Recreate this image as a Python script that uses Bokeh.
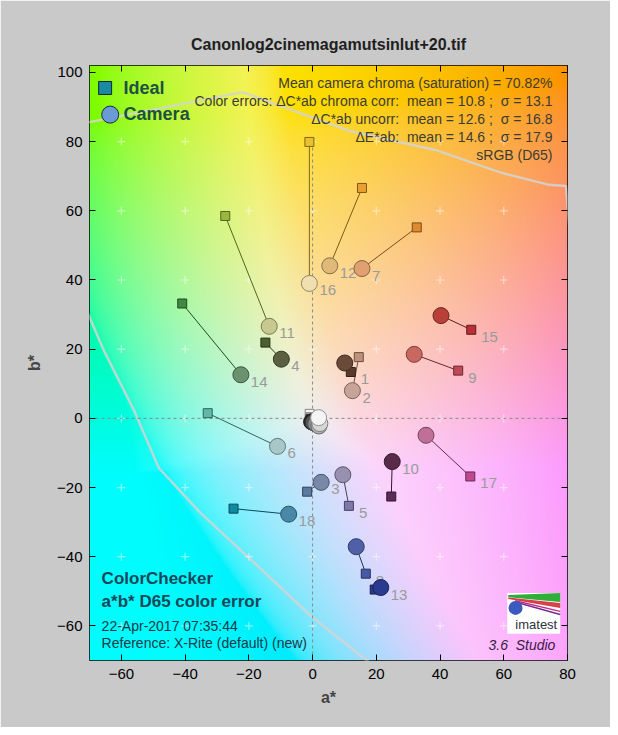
import numpy as np
from bokeh.plotting import figure
from bokeh.models import ColumnDataSource, Label, LinearAxis, FixedTicker, Range1d
from bokeh.core.properties import value
from bokeh.embed import file_html
from bokeh.resources import INLINE

# ---------------- data ----------------
X_MIN, X_MAX = -70, 80
Y_MIN, Y_MAX = -70, 102
x_ticks = [-60, -40, -20, 0, 20, 40, 60, 80]
y_ticks = [-60, -40, -20, 0, 20, 40, 60, 80, 100]
grid_a = [-60, -40, -20, 0, 20, 40, 60]
grid_b = [-60, -40, -20, 0, 20, 40, 60, 80]

patch_ids = [str(i) for i in range(1, 25)]
ideal_a = [12.0, 14.5, -1.7, -14.8, 11.4, -32.9, 32.7, 16.7, 45.7, 24.7, -27.4, 15.5,
           19.5, -40.9, 49.8, -1.0, 49.5, -24.8, -0.9, -0.6, -0.7, -0.6, -0.2, 0.3]
ideal_b = [13.4, 17.7, -21.2, 21.9, -25.3, 1.5, 55.2, -44.9, 13.8, -22.6, 58.5, 66.6,
           -49.5, 33.2, 25.6, 79.9, -16.8, -26.1, 1.3, 0.3, -0.2, -0.4, -0.8, -1.1]
cam_a = [10.1, 12.5, 2.7, -9.8, 9.5, -11.0, 15.5, 13.7, 31.9, 25.0, -13.6, 5.4,
         21.4, -22.5, 40.3, -1.0, 35.6, -7.5, 1.9, 2.3, 2.0, 1.0, 0.2, -0.3]
cam_b = [16.0, 8.0, -18.5, 17.1, -16.3, -8.1, 43.3, -37.1, 18.5, -12.5, 26.6, 44.1,
         -48.9, 12.6, 29.7, 39.0, -4.9, -27.7, 0.2, -1.5, -2.2, -1.6, -1.2, -1.0]
ideal_color = ["#5c3a2a", "#c0907a", "#5a7aa0", "#4a6030", "#8078a8", "#60b8a8",
               "#e08a30", "#4858a8", "#c04858", "#5a2a58", "#98b840", "#e8a030",
               "#2a3a90", "#408a40", "#b83038", "#e8c030", "#c04890", "#108aa0",
               "#f4f4f4", "#c8c8c8", "#a0a0a0", "#7a7a7a", "#505050", "#282828"]
cam_color = ["#6a4a38", "#c8a498", "#7888a8", "#5a6040", "#9890b0", "#a8c8c8",
             "#e0a070", "#5060a8", "#c86860", "#5a2a4a", "#c8c890", "#e0b878",
             "#2a3a90", "#6a926e", "#b84038", "#f0e0b0", "#c07098", "#4a88a8",
             "#f4f4f4", "#d6d6d6", "#b0b0b0", "#8a8a8a", "#555555", "#252525"]
# which marker each patch number is written beside (patches 1-18)
label_at = ["ideal", "camera", "camera", "camera", "ideal", "camera", "camera", "ideal",
            "ideal", "camera", "camera", "camera", "camera", "camera", "ideal", "camera",
            "ideal", "camera"]
n_labeled = 18

gamut_upper_a = [-90, -71.9, -22.0, 12.2, 38.5, 59.5, 74.2, 79.5, 80.6]
gamut_upper_b = [83, 85.3, 94.3, 82.9, 77.6, 70.9, 67.5, 67.2, 55]
gamut_lower_a = [-76, -70.3, -65.6, -56.1, -48.2, -35.1, -19.3, -0.4, 17.4, 22]
gamut_lower_b = [45, 29.9, 19.8, 2.5, -14.4, -27.4, -40.9, -57.2, -70.3, -74]

NB = "\u00a0"
title_text = "Canonlog2cinemagamutsinlut+20.tif"
stats_lines = ["Mean camera chroma (saturation) = 70.82%",
               "Color errors: \u0394C*ab chroma corr:" + NB + " mean = 10.8 ;" + NB + " \u03c3 = 13.1",
               "\u0394C*ab uncorr:" + NB + " mean = 12.6 ;" + NB + " \u03c3 = 16.8",
               "\u0394E*ab:" + NB + " mean = 14.6 ;" + NB + " \u03c3 = 17.9",
               "sRGB (D65)"]
info_bold = ["ColorChecker", "a*b* D65 color error"]
info_plain = ["22-Apr-2017 07:35:44", "Reference: X-Rite (default) (new)"]
version_text = "3.6" + NB + " Studio"

FONT = "Liberation Sans"


def darken(h, f):
    r, g, b = int(h[1:3], 16), int(h[3:5], 16), int(h[5:7], 16)
    return "#%02x%02x%02x" % (int(r * f), int(g * f), int(b * f))


# ---------------- background: a*b* plane colours ----------------
nx, ny = 300, 344
A, B = np.meshgrid(np.linspace(X_MIN, X_MAX, nx), np.linspace(Y_MIN, Y_MAX, ny))
Lc = 90.0
fy = (Lc + 16) / 116
fx = fy + A / 500
fz = fy - B / 200


def finv(t):
    return np.where(t > 6 / 29, t ** 3, 3 * (6 / 29) ** 2 * (t - 4 / 29))


X = 0.95047 * finv(fx)
Y = finv(fy) * np.ones_like(A)
Z = 1.08883 * finv(fz)
R = 3.2406 * X - 1.5372 * Y - 0.4986 * Z
G = -0.9689 * X + 1.8758 * Y + 0.0415 * Z
Bl = 0.0557 * X - 0.2040 * Y + 1.0570 * Z
rgb = np.clip(np.stack([R, G, Bl], -1), 0, 1)
rgb = rgb + 0.5 * (1 - rgb.max(axis=-1, keepdims=True))
rgb = np.clip(rgb, 0, 1)
rgb = np.where(rgb <= 0.0031308, 12.92 * rgb, 1.055 * rgb ** (1 / 2.4) - 0.055)
img = np.zeros((ny, nx), dtype=np.uint32)
view = img.view(dtype=np.uint8).reshape((ny, nx, 4))
view[:, :, :3] = np.clip(rgb * 253, 0, 255).astype(np.uint8)
view[:, :, 3] = 255

# ---------------- figure ----------------
p = figure(width=610, height=727, x_range=Range1d(X_MIN, X_MAX), y_range=Range1d(Y_MIN, Y_MAX),
           output_backend="svg", toolbar_location=None,
           border_fill_color="#c9c9c9", background_fill_color="#ffffff",
           min_border_left=89, min_border_right=43, min_border_top=65, min_border_bottom=67,
           outline_line_color="#000000", outline_line_width=1)
p.grid.visible = False

p.title.text = title_text
p.title.align = "center"
p.title.text_font = FONT
p.title.text_font_size = "16px"
p.title.text_font_style = "bold"
p.title.text_color = "#202020"
p.title.standoff = 26

for ax in (p.xaxis[0], p.yaxis[0]):
    ax.major_label_text_font = FONT
    ax.major_label_text_font_size = "15px"
    ax.major_label_text_color = "#000000"
    ax.axis_label_text_font = FONT
    ax.axis_label_text_font_size = "16px"
    ax.axis_label_text_font_style = "bold"
    ax.major_tick_in = 6
    ax.major_tick_out = 0
    ax.minor_tick_line_color = None
    ax.axis_line_color = None
p.xaxis[0].ticker = FixedTicker(ticks=x_ticks)
p.yaxis[0].ticker = FixedTicker(ticks=y_ticks)
p.xaxis[0].axis_label = "a*"
p.yaxis[0].axis_label = "b*"
p.xaxis[0].major_label_standoff = 8
p.xaxis[0].axis_label_standoff = 7
p.yaxis[0].major_label_standoff = 7
p.yaxis[0].axis_label_standoff = 11

top_ax = LinearAxis(ticker=FixedTicker(ticks=x_ticks),
                    major_label_overrides={t: "" for t in x_ticks},
                    major_tick_in=6, major_tick_out=0, minor_tick_line_color=None,
                    axis_line_color=None)
right_ax = LinearAxis(ticker=FixedTicker(ticks=y_ticks),
                      major_label_overrides={t: "" for t in y_ticks},
                      major_tick_in=6, major_tick_out=0, minor_tick_line_color=None,
                      axis_line_color=None)
p.add_layout(top_ax, "above")
p.add_layout(right_ax, "right")

p.image_rgba(image=[img], x=X_MIN, y=Y_MIN, dw=X_MAX - X_MIN, dh=Y_MAX - Y_MIN)

# gamut outline
p.line(gamut_upper_a, gamut_upper_b, line_color="#d4d4d4", line_width=2.5, line_alpha=0.85)
p.line(gamut_lower_a, gamut_lower_b, line_color="#d4d4d4", line_width=2.5, line_alpha=0.85)

# grid crosses
ga, gb = np.meshgrid(grid_a, grid_b)
p.scatter(ga.ravel(), gb.ravel(), marker="cross", size=8, line_color="#ffffff",
          line_alpha=0.5, line_width=1.2)

# dashed axes through zero
p.line([X_MIN, X_MAX], [0, 0], line_color="#8a8a8a", line_dash="3 3", line_width=1)
p.line([0, 0], [Y_MIN, grid_b[-1]], line_color="#8a8a8a", line_dash="3 3", line_width=1)

# connecting lines and ideal squares
src = ColumnDataSource(dict(
    ia=ideal_a, ib=ideal_b, ca=cam_a, cb=cam_b,
    icol=ideal_color,
    iline=[darken(c, 0.55) for c in ideal_color],
    seg=[darken(c, 0.55) for c in ideal_color]))
p.segment(x0="ia", y0="ib", x1="ca", y1="cb", line_color="seg", line_width=1, source=src)
p.scatter(x="ia", y="ib", marker="square", size=9, fill_color="icol", line_color="iline",
          line_width=1, source=src)

# patch numbers (drawn beneath the camera circles)
lx = [ideal_a[i] if label_at[i] == "ideal" else cam_a[i] for i in range(n_labeled)]
ly = [ideal_b[i] if label_at[i] == "ideal" else cam_b[i] for i in range(n_labeled)]
lsrc = ColumnDataSource(dict(x=lx, y=ly, t=patch_ids[:n_labeled]))
p.text(x="x", y="y", text="t", source=lsrc, x_offset=10, y_offset=7,
       text_font=value(FONT), text_font_size="15px", text_color="#9a9a9a",
       text_baseline="middle", text_align="left")

# camera circles: colour patches then neutrals (white on top)
order = list(range(n_labeled)) + list(range(len(patch_ids) - 1, n_labeled - 1, -1))
csrc = ColumnDataSource(dict(
    ca=[cam_a[i] for i in order], cb=[cam_b[i] for i in order],
    ccol=[cam_color[i] for i in order],
    cline=[darken(cam_color[i], 0.6) for i in order]))
p.scatter(x="ca", y="cb", marker="circle", size=16, fill_color="ccol", line_color="cline",
          line_width=1, source=csrc)

# legend
p.scatter([-65.1], [95.5], marker="square", size=13, fill_color="#1a8aa0", line_color="#102830")
p.scatter([-63.5], [87.8], marker="circle", size=17, fill_color="#6b9bd6", line_color="#1a2a40")
for txt, yy in (("Ideal", 95.6), ("Camera", 87.9)):
    p.add_layout(Label(x=-59.3, y=yy, text=txt, text_font=FONT, text_font_size="18px",
                       text_font_style="bold", text_color="#1e5044", text_baseline="middle",
                       text_align="left"))

# stats block
for i, t in enumerate(stats_lines):
    p.add_layout(Label(x=75.3, y=96.9 - 5.2 * i, text=t, text_font=FONT, text_font_size="14px",
                       text_color="#3c3c30", text_baseline="middle", text_align="right"))

# info block
for i, t in enumerate(info_bold):
    p.add_layout(Label(x=-66.2, y=-46.2 - 6.7 * i, text=t, text_font=FONT, text_font_size="17px",
                       text_font_style="bold", text_color="#17465a", text_baseline="middle",
                       text_align="left"))
for i, t in enumerate(info_plain):
    p.add_layout(Label(x=-66.2, y=-59.9 - 5.0 * i, text=t, text_font=FONT, text_font_size="14px",
                       text_color="#17384a", text_baseline="middle", text_align="left"))
p.add_layout(Label(x=76.2, y=-65.4, text=version_text, text_font=FONT, text_font_size="14px",
                   text_font_style="italic", text_color="#3a1848", text_baseline="middle",
                   text_align="right"))

# imatest logo
LX0, LX1, LY0, LY1 = 61.1, 77.7, -62.3, -50.5
p.quad(left=[LX0], right=[LX1], bottom=[LY0], top=[LY1], fill_color="#ffffff", line_color=None)
p.patch([LX0 + 0.3, LX1, LX1, LX0 + 0.3], [LY1 - 0.6, LY1, LY1 - 2.6, LY1 - 1.2],
        fill_color="#2fae3a", line_color=None)
p.patch([LX0 + 0.3, LX1, LX1, LX0 + 0.3], [LY1 - 1.3, LY1 - 2.9, LY1 - 4.3, LY1 - 1.7],
        fill_color="#d8404a", line_color=None)
p.line([LX0 + 2.5, LX1], [LY1 - 2.2, LY1 - 5.3], line_color="#c03080", line_width=1.5)
p.line([LX0 + 2.5, LX1], [LY1 - 2.6, LY1 - 6.2], line_color="#7a2a9a", line_width=1.5)
p.scatter([LX0 + 2.6], [LY1 - 4.3], marker="circle", size=14, fill_color="#3a5ac0",
          line_color=None)
p.add_layout(Label(x=(LX0 + LX1) / 2 + 0.8, y=LY0 + 2.7, text="imatest", text_font=FONT,
                   text_font_size="13px", text_color="#303040", text_baseline="middle",
                   text_align="center"))

open("out.html", "w").write(file_html(p, INLINE))
